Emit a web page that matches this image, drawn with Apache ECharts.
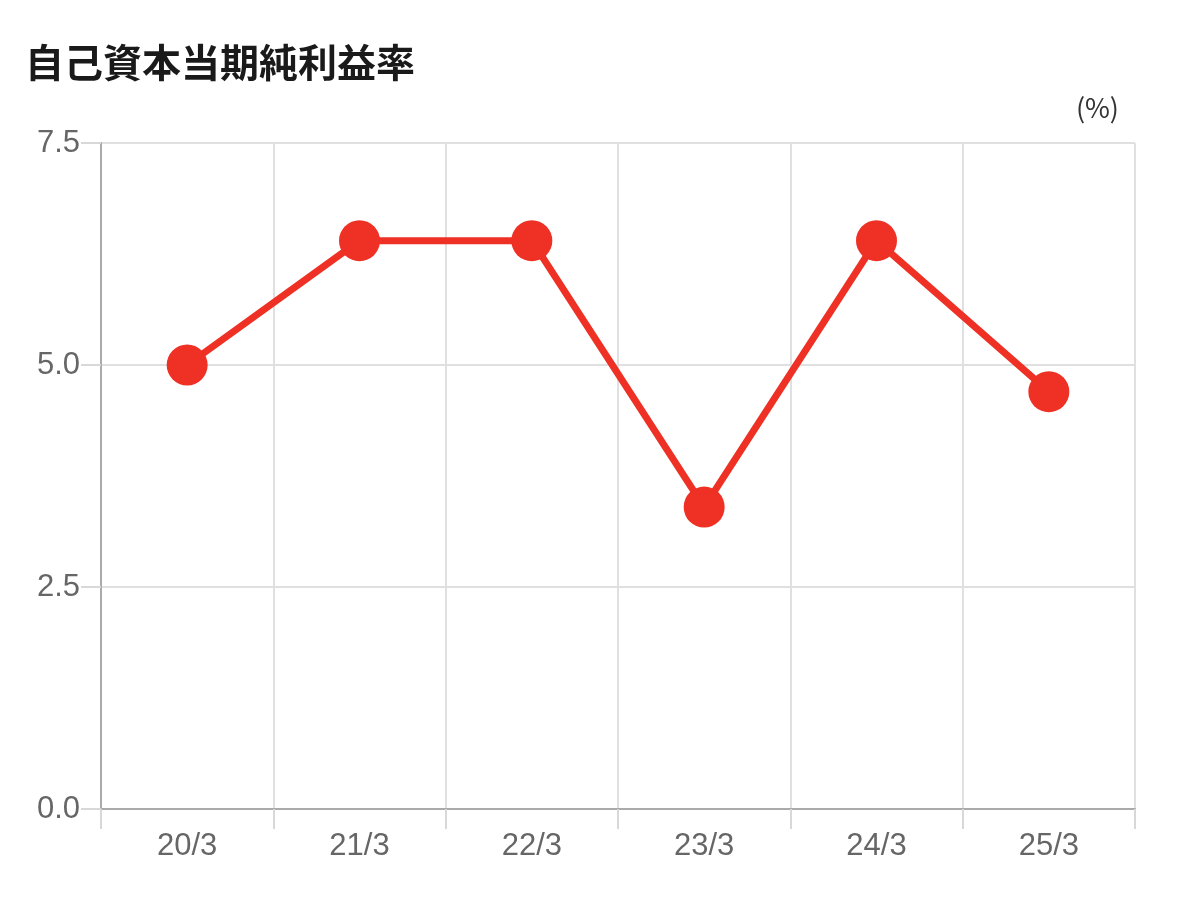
<!DOCTYPE html>
<html>
<head>
<meta charset="utf-8">
<style>
	html, body { margin: 0; padding: 0; background: #fff; }
	#chart { width: 1196px; height: 912px; }
</style>
<script src="https://cdn.jsdelivr.net/npm/echarts@6/dist/echarts.min.js"></script>
</head>
<body>
<div id="chart"></div>
<script>
const categories = ['20/3', '21/3', '22/3', '23/3', '24/3', '25/3']
const roeValues = [5.0, 6.4, 6.4, 3.4, 6.4, 4.7]
const chartTitle = '自己資本当期純利益率'
const unitLabel = '(%)'

const chart = echarts.init(document.getElementById('chart'))
chart.setOption({
	animation: false,
	title: [
		{
			text: chartTitle,
			left: 20,
			top: 38,
			textStyle: {
				fontFamily: 'Noto Sans CJK JP',
				fontSize: 39,
				fontWeight: 'bold',
				color: '#1a1a1a'
			}
		},
		{
			text: unitLabel,
			right: 72,
			top: 89,
			textStyle: {
				fontFamily: 'Noto Sans CJK JP',
				fontSize: 27,
				fontWeight: 'normal',
				color: '#333'
			}
		}
	],
	grid: {
		left: 101,
		right: 61,
		top: 143,
		bottom: 103
	},
	xAxis: {
		type: 'category',
		data: categories,
		boundaryGap: true,
		axisLine: { show: true, lineStyle: { color: '#aaa', width: 2 } },
		axisTick: { show: true, inside: false, length: 20, lineStyle: { color: '#d8d8d8', width: 2 } },
		axisLabel: {
			margin: 22,
			fontFamily: 'Liberation Sans',
			fontSize: 31,
			color: '#666'
		},
		splitLine: { show: true, lineStyle: { color: '#e0e0e0', width: 2 } }
	},
	yAxis: {
		type: 'value',
		min: 0,
		max: 7.5,
		interval: 2.5,
		axisLine: { show: true, lineStyle: { color: '#aaa', width: 2 } },
		axisTick: { show: true, inside: false, length: 20, lineStyle: { color: '#d8d8d8', width: 2 } },
		axisLabel: {
			margin: 21,
			fontFamily: 'Liberation Sans',
			fontSize: 31,
			color: '#666',
			formatter: v => v.toFixed(1)
		},
		splitLine: { show: true, lineStyle: { color: '#e0e0e0', width: 2 } }
	},
	series: [
		{
			type: 'line',
			data: roeValues,
			symbol: 'circle',
			symbolSize: 41,
			lineStyle: { color: '#ee3124', width: 7 },
			itemStyle: { color: '#ee3124' }
		}
	]
})
</script>
</body>
</html>
